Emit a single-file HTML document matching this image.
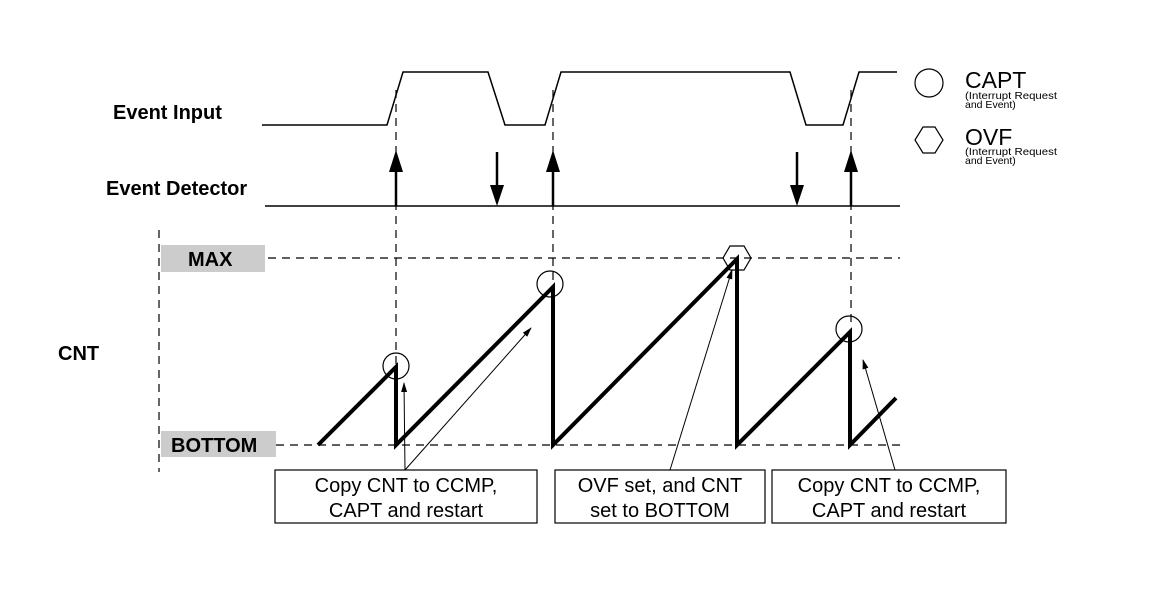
<!DOCTYPE html>
<html><head><style>body{margin:0;background:#fff}svg{display:block}</style></head><body>
<svg width="1150" height="600" viewBox="0 0 1150 600" xmlns="http://www.w3.org/2000/svg" font-family="Liberation Sans, sans-serif">
<defs>
<marker id="ah" markerWidth="10" markerHeight="10" refX="9" refY="5" orient="auto" markerUnits="userSpaceOnUse"><path d="M0,2 L10,5 L0,8 z" fill="#000"/></marker>
</defs>
<g font-weight="bold" font-size="20" fill="#000">
<text x="113" y="119">Event Input</text>
<text x="106" y="195">Event Detector</text>
<text x="58" y="360">CNT</text>
</g>
<polyline points="262,125 387,125 403,72 488,72 505,125 545,125 561,72 790,72 806,125 843,125 859,72 897,72" fill="none" stroke="#000" stroke-width="1.5"/>
<line x1="265" y1="206" x2="900" y2="206" stroke="#000" stroke-width="1.5"/>
<g stroke="#000" stroke-width="1.2" stroke-dasharray="8,6" fill="none">
<line x1="396" y1="90" x2="396" y2="370"/>
<line x1="553" y1="90" x2="553" y2="285"/>
<line x1="851" y1="90" x2="851" y2="325"/>
<line x1="159" y1="230" x2="159" y2="472"/>
<line x1="268" y1="258" x2="900" y2="258"/>
<line x1="276" y1="445" x2="900" y2="445"/>
</g>
<g stroke="#000" stroke-width="2.5">
<line x1="396" y1="206" x2="396" y2="170"/><line x1="553" y1="206" x2="553" y2="170"/><line x1="851" y1="206" x2="851" y2="170"/>
<line x1="497" y1="152" x2="497" y2="188"/><line x1="797" y1="152" x2="797" y2="188"/>
</g>
<g fill="#000">
<path d="M389,172 L403,172 L396,150z"/><path d="M546,172 L560,172 L553,150z"/><path d="M844,172 L858,172 L851,150z"/>
<path d="M490,185 L504,185 L497,206z"/><path d="M790,185 L804,185 L797,206z"/>
</g>
<rect x="161" y="245" width="104" height="27" fill="#ccc"/>
<text x="188" y="266" font-weight="bold" font-size="20">MAX</text>
<rect x="161" y="431" width="115" height="26" fill="#ccc"/>
<text x="171" y="452" font-weight="bold" font-size="20">BOTTOM</text>
<polyline points="318,445 396,367 396,445 553,287 553,445 737,259 737,445 850,332 850,445 896,398" fill="none" stroke="#000" stroke-width="4" stroke-linejoin="miter"/>
<g fill="none" stroke="#000" stroke-width="1.2">
<circle cx="396" cy="366" r="13"/><circle cx="550" cy="284" r="13"/><circle cx="849" cy="329" r="13"/>
<polygon points="723,258 730,246 744,246 751,258 744,270 730,270"/>
<circle cx="929" cy="83" r="14"/>
<polygon points="915,140 923,127 935,127 943,140 935,153 923,153"/>
</g>
<g stroke="#000" stroke-width="1" marker-end="url(#ah)">
<line x1="405" y1="470" x2="404" y2="383"/>
<line x1="405" y1="470" x2="531" y2="328"/>
<line x1="670" y1="470" x2="732" y2="270"/>
<line x1="895" y1="470" x2="863" y2="360"/>
</g>
<g fill="#fff" stroke="#000" stroke-width="1.2">
<rect x="275" y="470" width="262" height="53"/>
<rect x="555" y="470" width="210" height="53"/>
<rect x="772" y="470" width="234" height="53"/>
</g>
<g font-size="20" text-anchor="middle" fill="#000">
<text x="406" y="492">Copy CNT to CCMP,</text><text x="406" y="517">CAPT and restart</text>
<text x="660" y="492">OVF set, and CNT</text><text x="660" y="517">set to BOTTOM</text>
<text x="889" y="492">Copy CNT to CCMP,</text><text x="889" y="517">CAPT and restart</text>
</g>
<g fill="#000">
<text x="965" y="88" font-size="23">CAPT</text>
<text x="965" y="99" font-size="10.5" textLength="92" lengthAdjust="spacingAndGlyphs">(Interrupt Request</text>
<text x="965" y="108" font-size="10.5">and Event)</text>
<text x="965" y="145" font-size="23">OVF</text>
<text x="965" y="155" font-size="10.5" textLength="92" lengthAdjust="spacingAndGlyphs">(Interrupt Request</text>
<text x="965" y="164" font-size="10.5">and Event)</text>
</g>
</svg>
</body></html>
